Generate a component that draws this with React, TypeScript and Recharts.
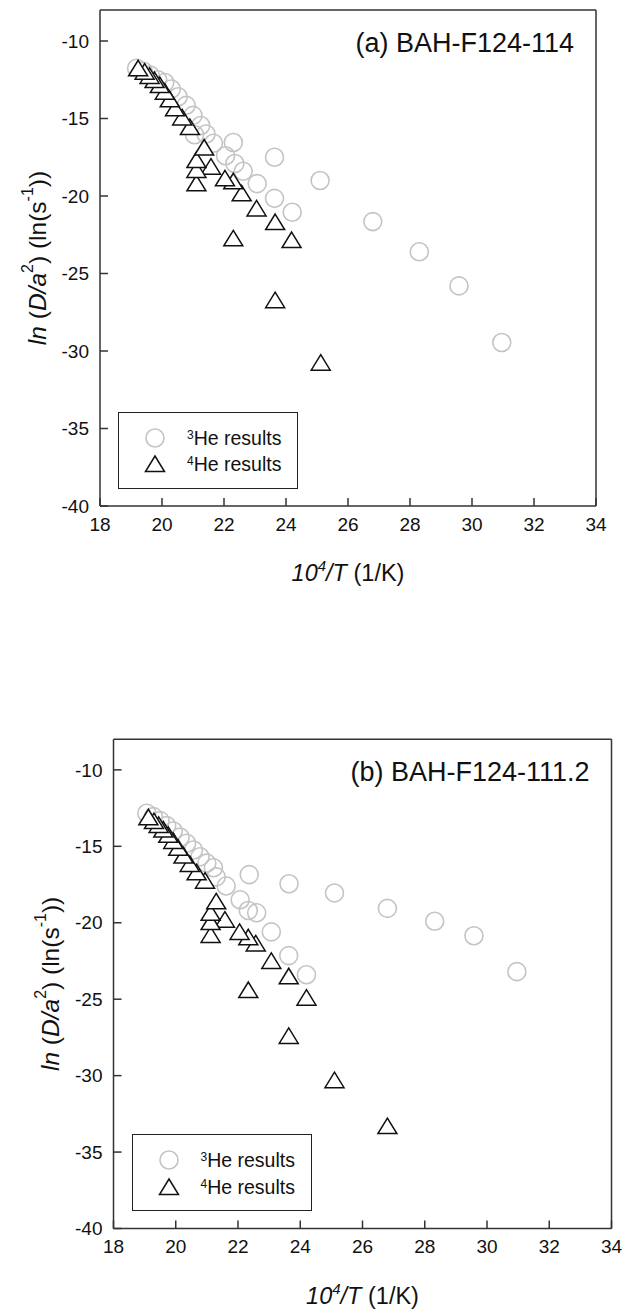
import React from 'react';
import { ScatterChart, Scatter, XAxis, YAxis, Legend, Label } from 'recharts';

const FONT = '"Liberation Sans", Arial, Helvetica, sans-serif';

const xTicks = [18, 20, 22, 24, 26, 28, 30, 32, 34];
const yTicks = [-40, -35, -30, -25, -20, -15, -10];
const xDomain: [number, number] = [18, 34];
const yDomain: [number, number] = [-40, -8];

const seriesNames = ['3He results', '4He results'];

type Pt = [number, number];

// (a) BAH-F124-114  -- [10^4/T, ln(D/a^2)]
const titleA = '(a) BAH-F124-114';
const he3A: Pt[] = [
  [19.18, -11.76], [19.4, -11.95], [19.62, -12.2], [19.86, -12.5], [20.09, -12.68],
  [20.3, -13.1], [20.52, -13.6], [20.78, -14.15], [21.0, -14.8], [21.25, -15.45],
  [21.05, -16.05], [21.42, -16.0], [21.66, -16.6], [22.3, -16.55], [22.05, -17.4],
  [22.35, -17.9], [22.62, -18.4], [23.07, -19.2], [23.63, -17.5], [23.63, -20.15],
  [24.2, -21.05], [25.1, -19.0], [26.8, -21.65], [28.3, -23.6], [29.58, -25.8],
  [30.96, -29.45],
];
// listed so the upper-left triangles are drawn last (on top)
const he4A: Pt[] = [
  [25.12, -30.75], [23.65, -26.72], [24.18, -22.84], [22.3, -22.73], [23.65, -21.68],
  [23.05, -20.8], [22.57, -19.83], [22.3, -19.05], [22.03, -18.86], [21.11, -19.18],
  [21.58, -18.11], [21.11, -18.32], [21.11, -17.68], [21.36, -16.87], [20.9, -15.55],
  [20.65, -14.93], [20.42, -14.34], [20.25, -13.76], [20.09, -13.27], [19.93, -12.84],
  [19.76, -12.52], [19.6, -12.25], [19.44, -11.98], [19.23, -11.76],
];

// (b) BAH-F124-111.2
const titleB = '(b) BAH-F124-111.2';
const he3B: Pt[] = [
  [19.07, -12.84], [19.28, -13.06], [19.5, -13.32], [19.71, -13.65], [19.92, -14.0],
  [20.14, -14.4], [20.35, -14.8], [20.57, -15.24], [20.78, -15.68], [21.0, -16.1],
  [21.21, -16.4], [21.3, -17.0], [21.62, -17.6], [22.36, -16.85], [22.07, -18.5],
  [22.33, -19.2], [22.6, -19.35], [23.07, -20.6], [23.63, -22.15], [24.2, -23.4],
  [23.64, -17.45], [25.1, -18.05], [26.8, -19.06], [28.32, -19.9], [29.58, -20.85],
  [30.96, -23.2],
];
const he4B: Pt[] = [
  [26.8, -33.3], [25.1, -30.3], [23.63, -27.4], [24.2, -24.9], [22.33, -24.4],
  [23.63, -23.5], [23.07, -22.5], [22.57, -21.35], [22.33, -20.95], [22.05, -20.6],
  [21.12, -20.8], [21.58, -19.8], [21.12, -19.95], [21.12, -19.35], [21.3, -18.6],
  [20.94, -17.25], [20.67, -16.7], [20.45, -16.15], [20.25, -15.6], [20.08, -15.1],
  [19.92, -14.65], [19.76, -14.25], [19.6, -13.9], [19.45, -13.6], [19.3, -13.35],
  [19.12, -13.1],
];

const toRows = (pts: Pt[]) => pts.map(([x, y]) => ({ x, y }));

const AXIS = { stroke: '#333', strokeWidth: 1.5 };
const TICK = { fontSize: 19, fill: '#111', fontFamily: FONT };

const CircleMark = (p: any) => (
  <circle cx={p.cx} cy={p.cy} r={9} fill="none" stroke="#c4c4c4" strokeWidth={1.6} />
);

const TriangleMark = (p: any) => {
  const { cx, cy } = p;
  return (
    <path
      d={`M${cx},${cy - 8}L${cx + 9.5},${cy + 7.5}L${cx - 9.5},${cy + 7.5}Z`}
      fill="#fff"
      stroke="#111"
      strokeWidth={1.5}
    />
  );
};

// keeps the top/right frame axes alive without drawing anything
const NoMark = () => <g />;

const renderLegend = (props: any) => {
  const items = (props.payload || []).filter(
    (e: any) => typeof e.value === 'string' && seriesNames.includes(e.value),
  );
  return (
    <div
      style={{
        width: 180,
        height: 77,
        border: '1.5px solid #222',
        boxSizing: 'border-box',
        position: 'relative',
        background: '#fff',
        fontFamily: FONT,
        fontSize: 19.5,
        color: '#111',
      }}
    >
      {items.map((entry: any, i: number) => {
        const name: string = entry.value;
        const rowY = 25 + i * 26.5;
        return (
          <React.Fragment key={name}>
            <svg
              width={24}
              height={24}
              style={{ position: 'absolute', left: 24, top: rowY - 12 }}
            >
              {entry.type === 'triangle' ? (
                <path d="M12,4 L21.5,19.5 L2.5,19.5 Z" fill="#fff" stroke="#111" strokeWidth={1.5} />
              ) : (
                <circle cx={12} cy={12} r={9} fill="none" stroke="#c4c4c4" strokeWidth={1.6} />
              )}
            </svg>
            <span
              style={{
                position: 'absolute',
                left: 68,
                top: rowY - 12,
                lineHeight: '24px',
                whiteSpace: 'nowrap',
              }}
            >
              <sup style={{ fontSize: 12, verticalAlign: 'top', position: 'relative', top: -3 }}>
                {name.charAt(0)}
              </sup>
              {name.slice(1)}
            </span>
          </React.Fragment>
        );
      })}
    </div>
  );
};

interface PanelProps {
  title: string;
  he3: Pt[];
  he4: Pt[];
  top: number;
  height: number;
  // plot frame in chart coordinates
  frame: { left: number; top: number; right: number; bottom: number };
}

function Panel({ title, he3, he4, top, height, frame }: PanelProps) {
  const plotLeft = frame.left;
  const plotTop = frame.top;
  const plotRight = frame.right;
  const plotBottom = frame.bottom;
  const margin = {
    top: plotTop - 1,
    right: 633 - plotRight - 1,
    bottom: height - plotBottom - 30,
    left: plotLeft - 60,
  };
  const midX = (plotLeft + plotRight) / 2;
  const midY = (plotTop + plotBottom) / 2;
  const yLabX = plotLeft - 63;

  const xLabel = () => (
    <text x={midX} y={plotBottom + 75} textAnchor="middle" fontFamily={FONT} fontSize={23.5} fill="#111">
      <tspan fontStyle="italic">10</tspan>
      <tspan fontStyle="italic" fontSize={15} dy={-10}>4</tspan>
      <tspan fontStyle="italic" dy={10}>/T</tspan>
      <tspan> (1/K)</tspan>
    </text>
  );

  const yLabel = () => (
    <text
      x={yLabX}
      y={midY}
      transform={`rotate(-90 ${yLabX} ${midY})`}
      textAnchor="middle"
      dominantBaseline="central"
      fontFamily={FONT}
      fontSize={24.5}
      fill="#111"
    >
      <tspan fontStyle="italic">ln</tspan>
      <tspan> (</tspan>
      <tspan fontStyle="italic">D/a</tspan>
      <tspan fontSize={16} dy={-10}>2</tspan>
      <tspan dy={10}>) (ln(s</tspan>
      <tspan fontSize={16} dy={-10}>-1</tspan>
      <tspan dy={10}>))</tspan>
    </text>
  );

  const titleLabel = () => (
    <text x={plotRight - 22} y={plotTop + 42} textAnchor="end" fontFamily={FONT} fontSize={27} fill="#111">
      {title}
    </text>
  );

  return (
    <div style={{ position: 'absolute', left: 0, top }}>
      <ScatterChart width={633} height={height} margin={margin}>
        <XAxis
          xAxisId="b"
          type="number"
          dataKey="x"
          orientation="bottom"
          domain={xDomain}
          ticks={xTicks}
          interval={0}
          allowDataOverflow
          height={30}
          tickSize={-8}
          tickMargin={19.5}
          axisLine={AXIS}
          tickLine={AXIS}
          tick={TICK}
        >
          <Label content={xLabel} />
        </XAxis>
        <XAxis
          xAxisId="t"
          type="number"
          dataKey="x"
          orientation="top"
          domain={xDomain}
          ticks={xTicks}
          interval={0}
          allowDataOverflow
          height={1}
          tickSize={-8}
          axisLine={AXIS}
          tickLine={AXIS}
          tick={false}
        >
          <Label content={titleLabel} />
        </XAxis>
        <YAxis
          yAxisId="l"
          type="number"
          dataKey="y"
          orientation="left"
          domain={yDomain}
          ticks={yTicks}
          interval={0}
          allowDataOverflow
          width={60}
          tickSize={-8}
          tickMargin={19}
          axisLine={AXIS}
          tickLine={AXIS}
          tick={TICK}
        >
          <Label content={yLabel} />
        </YAxis>
        <YAxis
          yAxisId="r"
          type="number"
          dataKey="y"
          orientation="right"
          domain={yDomain}
          ticks={yTicks}
          interval={0}
          allowDataOverflow
          width={1}
          tickSize={-8}
          axisLine={AXIS}
          tickLine={AXIS}
          tick={false}
        />
        <Legend
          layout="vertical"
          align="center"
          verticalAlign="middle"
          content={renderLegend}
          wrapperStyle={{ left: plotLeft + 18, top: plotBottom - 17.5 - 77, width: 180, height: 77 }}
        />
        <Scatter
          name="frame"
          xAxisId="t"
          yAxisId="r"
          data={toRows(he3)}
          shape={NoMark}
          legendType="none"
          isAnimationActive={false}
        />
        <Scatter
          name={seriesNames[0]}
          xAxisId="b"
          yAxisId="l"
          data={toRows(he3)}
          shape={CircleMark}
          legendType="circle"
          isAnimationActive={false}
        />
        <Scatter
          name={seriesNames[1]}
          xAxisId="b"
          yAxisId="l"
          data={toRows(he4)}
          shape={TriangleMark}
          legendType="triangle"
          isAnimationActive={false}
        />
      </ScatterChart>
    </div>
  );
}

export default function App() {
  return (
    <div
      style={{
        position: 'absolute',
        left: 0,
        top: 0,
        width: 633,
        height: 1312,
        background: '#fff',
        fontFamily: FONT,
      }}
    >
      <Panel
        title={titleA}
        he3={he3A}
        he4={he4A}
        top={0}
        height={620}
        frame={{ left: 100, top: 10, right: 596, bottom: 506 }}
      />
      <Panel
        title={titleB}
        he3={he3B}
        he4={he4B}
        top={640}
        height={672}
        frame={{ left: 113.5, top: 99.3, right: 611.5, bottom: 588.5 }}
      />
    </div>
  );
}
